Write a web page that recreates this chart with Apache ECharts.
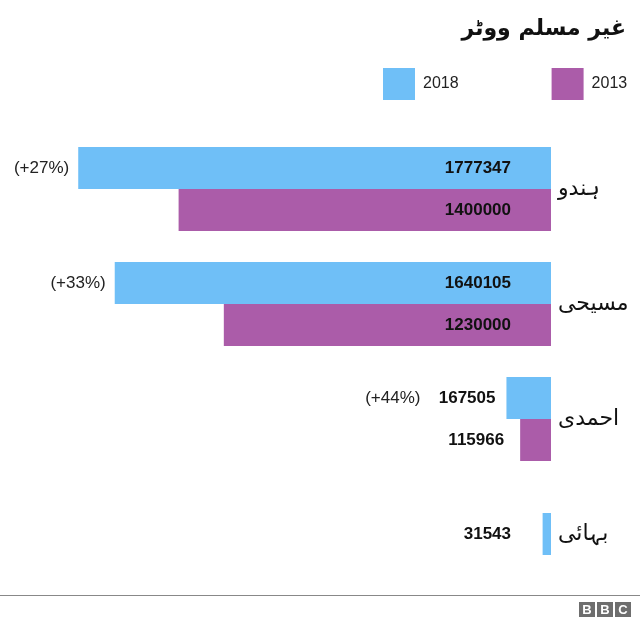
<!DOCTYPE html>
<html>
<head>
<meta charset="utf-8">
<script src="https://cdn.jsdelivr.net/npm/echarts@6/dist/echarts.min.js"></script>
<style>
html, body { margin: 0; padding: 0; background: #fff; }
#chart { width: 640px; height: 621px; }
</style>
</head>
<body>
<div id="chart"></div>
<script>
var categories = ["ہندو", "مسیحی", "احمدی", "بہائی"];
var votes2018 = [1777347, 1640105, 167505, null];
var votes2013 = [1400000, 1230000, 115966, null];
var bahai2018 = [null, null, null, 31543];
var growth = ["(+27%)", "(+33%)", "(+44%)", null];

var BLUE = "#6fbff7";
var PURPLE = "#ab5ca9";
var urduFont = "'DejaVu Sans', 'Noto Sans', sans-serif";
var latinFont = "Helvetica, Arial, 'Liberation Sans', sans-serif";

// wide bars keep their value label inside, narrow ones push it out to the left
function valueData(values) {
    return values.map(function (v) {
        if (v == null) return null;
        if (v < 300000) {
            return { value: v, label: { position: "left", distance: v > 150000 ? 11 : 16 } };
        }
        return v;
    });
}

// zero-length bars stacked on the 2018 bars, only to carry the growth label
var growthData = growth.map(function (g, i) {
    if (g == null) return null;
    return { value: 0, name: g, label: { distance: votes2018[i] < 300000 ? 86 : 9 } };
});

var valueLabel = {
    show: true,
    position: "insideRight",
    distance: 40,
    color: "#111",
    fontFamily: latinFont,
    fontWeight: "bold",
    fontSize: 17
};

var chart = echarts.init(document.getElementById("chart"));
chart.setOption({
    animation: false,
    title: {
        text: "غیر مسلم ووٹر",
        right: 9,
        top: 13,
        textStyle: { fontFamily: urduFont, fontSize: 22, fontWeight: "bold", color: "#111" }
    },
    legend: {
        data: ["2018", "2013"],
        icon: "rect",
        left: 378,
        top: 63,
        itemWidth: 32,
        itemHeight: 32,
        itemGap: 93,
        textStyle: { fontFamily: latinFont, fontSize: 16, color: "#222", padding: [0, 0, 0, 3] }
    },
    grid: { left: 19, right: 89, top: 131.5, bottom: 29.5 },
    xAxis: {
        type: "value",
        inverse: true,
        min: 0,
        max: 2000000,
        show: false
    },
    yAxis: [{
        type: "category",
        data: categories,
        inverse: true,
        position: "right",
        axisLine: { show: false },
        axisTick: { show: false },
        axisLabel: {
            margin: 7,
            color: "#111",
            fontFamily: urduFont,
            fontSize: 22
        }
    }, {
        type: "category",
        data: categories,
        inverse: true,
        show: false
    }],
    series: [{
        name: "2018",
        type: "bar",
        stack: "a",
        data: valueData(votes2018),
        barWidth: 42,
        barGap: 0,
        itemStyle: { color: BLUE },
        label: valueLabel
    }, {
        name: "2018",
        type: "bar",
        stack: "a",
        data: growthData,
        barWidth: 42,
        barGap: 0,
        itemStyle: { color: BLUE },
        label: {
            show: true,
            position: "left",
            formatter: function (p) { return p.name; },
            color: "#222",
            fontFamily: latinFont,
            fontSize: 17
        }
    }, {
        name: "2013",
        type: "bar",
        data: valueData(votes2013),
        barWidth: 42,
        barGap: 0,
        itemStyle: { color: PURPLE },
        label: valueLabel
    }, {
        name: "2018",
        type: "bar",
        yAxisIndex: 1,
        data: bahai2018,
        barWidth: 42,
        itemStyle: { color: BLUE },
        label: valueLabel
    }],
    graphic: [{
        type: "line",
        shape: { x1: 0, y1: 595.5, x2: 640, y2: 595.5 },
        style: { stroke: "#888", lineWidth: 1 }
    }, {
        type: "group",
        left: 579,
        top: 602,
        children: [0, 1, 2].map(function (i) {
            return {
                type: "group",
                x: i * 18,
                children: [{
                    type: "rect",
                    shape: { x: 0, y: 0, width: 16, height: 15 },
                    style: { fill: "#6e6e6e" }
                }, {
                    type: "text",
                    x: 8,
                    y: 8,
                    style: {
                        text: "BBC".charAt(i),
                        fill: "#fff",
                        font: "bold 13px " + latinFont,
                        align: "center",
                        verticalAlign: "middle"
                    }
                }]
            };
        })
    }]
});
</script>
</body>
</html>
